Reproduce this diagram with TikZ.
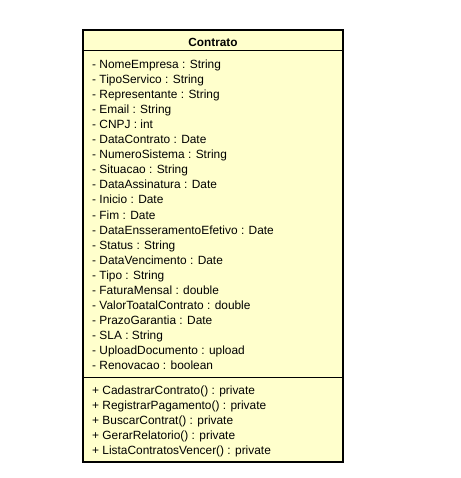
\documentclass[tikz,border=0pt]{standalone}
\usepackage{fontspec}
\setmainfont{Liberation Sans}
\definecolor{classfill}{RGB}{255,255,204}

\begin{document}
\begin{tikzpicture}[x=1pt,y=-1pt,
  member/.style={anchor=base west,inner sep=0pt,font=\fontsize{11.9}{14}\selectfont},
  title/.style={anchor=base,inner sep=0pt,font=\fontsize{11.8}{14}\selectfont\bfseries}]
\useasboundingbox (0,0) rectangle (460,478);
\draw[line width=2pt,fill=classfill] (83,30) rectangle (343,462);
\draw[line width=1pt] (83,50.5) -- (343,50.5);
\draw[line width=1pt] (83,377) -- (343,377);

\node[title] (nome) at (213,46.5) {Contrato};

\node[member] (empresa) at (92,69) {- NomeEmpresa : String};
\node[member] (servico) at (92,84) {- TipoServico : String};
\node[member] (repres) at (92,99) {- Representante : String};
\node[member] (email) at (92,114) {- Email : String};
\node[member] (cnpj) at (92,129) {- CNPJ : int};
\node[member] (datacontr) at (92,144) {- DataContrato : Date};
\node[member] (sistema) at (92,159) {- NumeroSistema : String};
\node[member] (situacao) at (92,174) {- Situacao : String};
\node[member] (assin) at (92,189) {- DataAssinatura : Date};
\node[member] (inicio) at (92,204) {- Inicio : Date};
\node[member] (fim) at (92,219) {- Fim : Date};
\node[member] (enserr) at (92,234) {- DataEnsseramentoEfetivo : Date};
\node[member] (status) at (92,249) {- Status : String};
\node[member] (venc) at (92,264) {- DataVencimento : Date};
\node[member] (tipo) at (92,279) {- Tipo : String};
\node[member] (fatura) at (92,294) {- FaturaMensal : double};
\node[member] (valor) at (92,309) {- ValorToatalContrato : double};
\node[member] (prazo) at (92,324) {- PrazoGarantia : Date};
\node[member] (sla) at (92,339) {- SLA : String};
\node[member] (upload) at (92,354) {- UploadDocumento : upload};
\node[member] (renov) at (92,369) {- Renovacao : boolean};

\node[member] (cadastrar) at (92,394) {+ CadastrarContrato() : private};
\node[member] (registrar) at (92,409) {+ RegistrarPagamento() : private};
\node[member] (buscar) at (92,424) {+ BuscarContrat() : private};
\node[member] (gerar) at (92,439) {+ GerarRelatorio() : private};
\node[member] (lista) at (92,454) {+ ListaContratosVencer() : private};
\end{tikzpicture}
\end{document}
